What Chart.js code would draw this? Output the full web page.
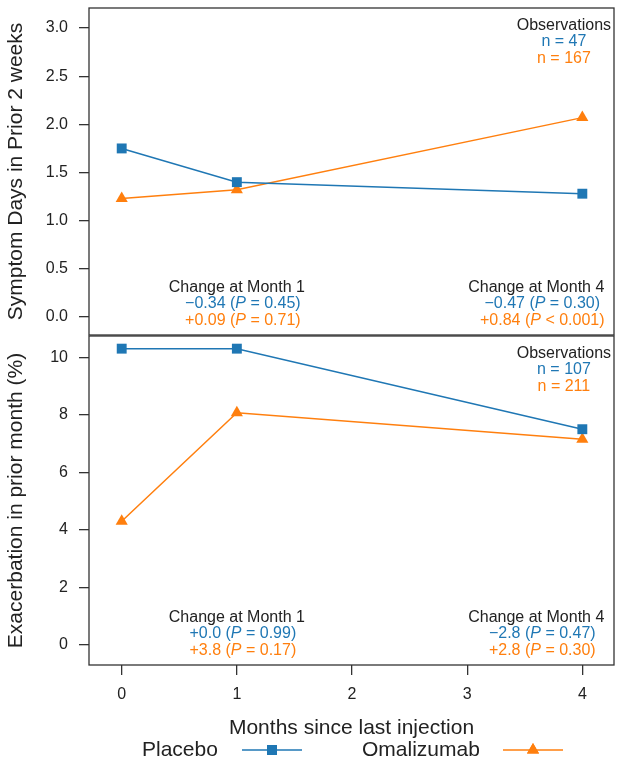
<!DOCTYPE html>
<html>
<head>
<meta charset="utf-8">
<script src="https://cdn.jsdelivr.net/npm/chart.js@4/dist/chart.umd.min.js"></script>
<style>
  html, body { margin: 0; padding: 0; background: #fff; }
  #wrap { position: relative; width: 624px; height: 766px; }
  #topBox { position: absolute; left: 0; top: 0; width: 624px; height: 336px; }
  #bottomBox { position: absolute; left: 0; top: 335px; width: 624px; height: 431px; }
</style>
</head>
<body>
<div id="wrap">
  <div id="topBox"><canvas id="symptomChart" width="624" height="336"></canvas></div>
  <div id="bottomBox"><canvas id="exacChart" width="624" height="431"></canvas></div>
</div>
<script>
// Datos
const months = [0, 1, 4];
const monthTicks = [0, 1, 2, 3, 4];
const seriesNames = ['Placebo', 'Omalizumab'];

const placeboSymptom = [1.75, 1.40, 1.28];
const omalizumabSymptom = [1.23, 1.32, 2.07];
const symptomTicks = [0, 0.5, 1, 1.5, 2, 2.5, 3];

const placeboExac = [10.3, 10.3, 7.5];
const omalizumabExac = [4.3, 8.07, 7.15];
const exacTicks = [0, 2, 4, 6, 8, 10];

// Anotaciones (texto por panel)
const symptomObs = ['n = 47', 'n = 167'];
const symptomMonth1 = [['\u22120.34 (', 'P', ' = 0.45)'], ['+0.09 (', 'P', ' = 0.71)']];
const symptomMonth4 = [['\u22120.47 (', 'P', ' = 0.30)'], ['+0.84 (', 'P', ' < 0.001)']];
const exacObs = ['n = 107', 'n = 211'];
const exacMonth1 = [['+0.0 (', 'P', ' = 0.99)'], ['+3.8 (', 'P', ' = 0.17)']];
const exacMonth4 = [['\u22122.8 (', 'P', ' = 0.47)'], ['+2.8 (', 'P', ' = 0.30)']];

// Estilos
const FONT = '"Liberation Sans", Arial, sans-serif';
const BLUE = '#1f77b4';
const ORANGE = '#ff7f0e';
const INK = '#222222';
const seriesColors = [BLUE, ORANGE];
const seriesMarkers = ['rect', 'triangle'];

function toPoints(values) {
    return months.map((m, i) => ({ x: m, y: values[i] }));
}

function makeDataset(label, values, idx) {
    return {
        label: label,
        data: toPoints(values),
        borderColor: seriesColors[idx],
        backgroundColor: seriesColors[idx],
        borderWidth: 1.5,
        pointStyle: seriesMarkers[idx],
        pointRadius: 7,
        pointHoverRadius: 7,
        pointBorderWidth: 0,
        tension: 0
    };
}

// Texto con partes en cursiva centrado en cx
function drawRich(ctx, parts, cx, cy, color, size) {
    const widths = parts.map((t, k) => {
        ctx.font = (k === 1 ? 'italic ' : '') + size + 'px ' + FONT;
        return ctx.measureText(t).width;
    });
    const total = widths.reduce((a, b) => a + b, 0);
    let x = cx - total / 2;
    ctx.textAlign = 'left';
    ctx.textBaseline = 'middle';
    ctx.fillStyle = color;
    parts.forEach((t, k) => {
        ctx.font = (k === 1 ? 'italic ' : '') + size + 'px ' + FONT;
        ctx.fillText(t, x, cy);
        x += widths[k];
    });
}

function drawPlain(ctx, text, cx, cy, color, size) {
    ctx.font = size + 'px ' + FONT;
    ctx.textAlign = 'center';
    ctx.textBaseline = 'middle';
    ctx.fillStyle = color;
    ctx.fillText(text, cx, cy);
}

// Plugin: marco + anotaciones del panel
function panelPlugin(obs, month1, month4) {
    return {
        id: 'panelDecor',
        afterDraw(chart) {
            const ctx = chart.ctx;
            const a = chart.chartArea;
            const xs = chart.scales.x;
            ctx.save();
            ctx.strokeStyle = '#333';
            ctx.lineWidth = 1.3;
            ctx.strokeRect(a.left, a.top, a.right - a.left, a.bottom - a.top);

            const fs = 16;
            const obsX = xs.getPixelForValue(3.84);
            drawPlain(ctx, 'Observations', obsX, a.top + 17.5, INK, fs);
            drawPlain(ctx, obs[0], obsX, a.top + 34, BLUE, fs);
            drawPlain(ctx, obs[1], obsX, a.top + 50.5, ORANGE, fs);

            const m1 = xs.getPixelForValue(1);
            drawPlain(ctx, 'Change at Month 1', m1, a.bottom - 47.5, INK, fs);
            drawRich(ctx, month1[0], m1 + 6, a.bottom - 31, BLUE, fs);
            drawRich(ctx, month1[1], m1 + 6, a.bottom - 14, ORANGE, fs);

            const m4 = xs.getPixelForValue(3.6);
            drawPlain(ctx, 'Change at Month 4', m4, a.bottom - 47.5, INK, fs);
            drawRich(ctx, month4[0], m4 + 6, a.bottom - 31, BLUE, fs);
            drawRich(ctx, month4[1], m4 + 6, a.bottom - 14, ORANGE, fs);
            ctx.restore();
        }
    };
}

// Plugin: leyenda con línea y marcador
const legendPlugin = {
    id: 'lineLegend',
    afterDraw(chart) {
        const ctx = chart.ctx;
        const y = 415;
        const items = [
            { textX: 142, lineA: 242, lineB: 302 },
            { textX: 362, lineA: 503, lineB: 563 }
        ];
        ctx.save();
        items.forEach((it, i) => {
            ctx.font = '21px ' + FONT;
            ctx.fillStyle = INK;
            ctx.textAlign = 'left';
            ctx.textBaseline = 'middle';
            ctx.fillText(chart.data.datasets[i].label, it.textX, y);
            ctx.strokeStyle = seriesColors[i];
            ctx.lineWidth = 1.5;
            ctx.beginPath();
            ctx.moveTo(it.lineA, y);
            ctx.lineTo(it.lineB, y);
            ctx.stroke();
            ctx.fillStyle = seriesColors[i];
            Chart.helpers.drawPoint(ctx, { pointStyle: seriesMarkers[i], radius: 7, rotation: 0, borderWidth: 0 },
                (it.lineA + it.lineB) / 2, y);
            ctx.fill();
        });
        ctx.restore();
    }
};

// Quitar el relleno que Chart.js añade por las etiquetas extremas
function noEdgePadding(axis) {
    axis.paddingTop = 0;
    axis.paddingBottom = 0;
    axis.paddingLeft = 0;
    axis.paddingRight = 0;
}

function yScale(min, max, ticks, title, fmt) {
    return {
        type: 'linear',
        min: min,
        max: max,
        afterBuildTicks: axis => { axis.ticks = ticks.map(v => ({ value: v })); },
        afterFit: axis => { axis.width = 89; noEdgePadding(axis); },
        ticks: {
            color: INK,
            font: { family: FONT, size: 16 },
            padding: 11,
            callback: fmt
        },
        grid: { drawOnChartArea: false, drawTicks: true, tickLength: 10, color: '#333', lineWidth: 1.3 },
        border: { display: false },
        title: {
            display: true,
            text: title,
            color: INK,
            font: { family: FONT, size: 21 },
            padding: { top: 4, bottom: 0 }
        }
    };
}

function xScale(show) {
    return {
        type: 'linear',
        min: -0.284,
        max: 4.275,
        display: show,
        afterBuildTicks: axis => { axis.ticks = monthTicks.map(v => ({ value: v })); },
        afterFit: axis => { if (show) axis.height = 101; noEdgePadding(axis); },
        ticks: {
            color: INK,
            font: { family: FONT, size: 16 },
            padding: 10
        },
        grid: { drawOnChartArea: false, drawTicks: true, tickLength: 10, color: '#333', lineWidth: 1.3 },
        border: { display: false },
        title: {
            display: show,
            text: 'Months since last injection',
            color: INK,
            font: { family: FONT, size: 21 },
            padding: { top: 0, bottom: 25 }
        }
    };
}

const commonPlugins = {
    legend: { display: false },
    tooltip: { enabled: false }
};

// Panel superior: días con síntomas
new Chart(document.getElementById('symptomChart'), {
    type: 'line',
    data: {
        datasets: [
            makeDataset(seriesNames[0], placeboSymptom, 0),
            makeDataset(seriesNames[1], omalizumabSymptom, 1)
        ]
    },
    options: {
        responsive: false,
        animation: false,
        layout: { autoPadding: false, padding: { top: 8, right: 10, bottom: 1, left: 0 } },
        scales: {
            x: xScale(false),
            y: yScale(-0.187, 3.208, symptomTicks, 'Symptom Days in Prior 2 weeks', v => v.toFixed(1))
        },
        plugins: commonPlugins
    },
    plugins: [panelPlugin(symptomObs, symptomMonth1, symptomMonth4)]
});

// Panel inferior: exacerbaciones
new Chart(document.getElementById('exacChart'), {
    type: 'line',
    data: {
        datasets: [
            makeDataset(seriesNames[0], placeboExac, 0),
            makeDataset(seriesNames[1], omalizumabExac, 1)
        ]
    },
    options: {
        responsive: false,
        animation: false,
        layout: { autoPadding: false, padding: { top: 1, right: 10, bottom: 0, left: 0 } },
        scales: {
            x: xScale(true),
            y: yScale(-0.695, 10.74, exacTicks, 'Exacerbation in prior month (%)', v => String(v))
        },
        plugins: commonPlugins
    },
    plugins: [panelPlugin(exacObs, exacMonth1, exacMonth4), legendPlugin]
});
</script>
</body>
</html>
